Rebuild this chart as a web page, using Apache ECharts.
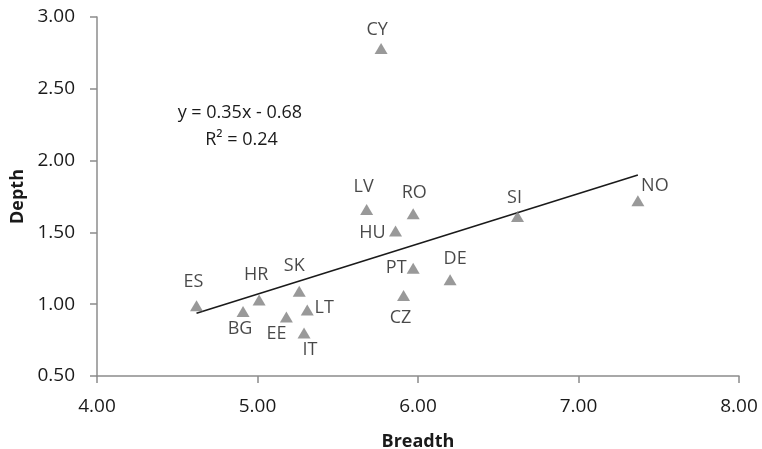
<!DOCTYPE html>
<html><head><meta charset="utf-8">
<script src="https://cdn.jsdelivr.net/npm/echarts@6/dist/echarts.min.js"></script>
<style>html,body{margin:0;padding:0;background:#fff}#c{width:762px;height:449px}</style>
</head><body><div id="c"></div>
<script>
// ---- data ----
const countries = ['ES','HR','BG','SK','EE','IT','LT','LV','RO','HU','PT','DE','CZ','SI','NO','CY'];
const breadth   = [4.62,5.01,4.91,5.26,5.18,5.29,5.31,5.68,5.97,5.86,5.97,6.20,5.91,6.62,7.37,5.77];
const depth     = [0.99,1.03,0.95,1.09,0.91,0.80,0.96,1.66,1.63,1.51,1.25,1.17,1.06,1.61,1.72,2.78];
const trendSlope = 0.35;
const trendIntercept = -0.68;
const equationText = ['y = 0.35x - 0.68', 'R² = 0.24'];
const xAxisTitle = 'Breadth';
const yAxisTitle = 'Depth';

// ---- label placement (style only) ----
const labelOffsets = {
  ES:[-3,-24], HR:[-3,-25], BG:[-3,17], SK:[-5,-25], EE:[-10,17], IT:[6,17],
  LT:[17,-2], LV:[-3,-23], RO:[1,-21], HU:[-23,2], PT:[-17,0], DE:[5,-21],
  CZ:[-3,22], SI:[-3,-19], NO:[17,-15], CY:[-4,-19]
};

const FONT = 'Open Sans';
const TXT = '#1a1a1a';
const pts = countries.map((c,i)=>({
  value:[breadth[i], depth[i]], name:c,
  label:{show:true, position:'inside', offset:labelOffsets[c], formatter:c,
         color:TXT, fontSize:18, fontFamily:FONT}
}));
const xMin = Math.min(...breadth), xMax = Math.max(...breadth);
const trend = [[xMin, trendSlope*xMin+trendIntercept],[xMax, trendSlope*xMax+trendIntercept]];

const chart = echarts.init(document.getElementById('c'), null, {renderer:'canvas'});
const axisLineStyle = {color:'#8c8c8c', width:1.5};
chart.setOption({
  animation:false,
  textStyle:{fontFamily:FONT},
  grid:{left:97, right:23, top:17, bottom:73, containLabel:false, outerBoundsMode:'none'},
  xAxis:{
    type:'value', min:4, max:8, interval:1,
    axisLine:{show:true, lineStyle:axisLineStyle},
    axisTick:{show:true, length:7, inside:false, lineStyle:axisLineStyle},
    splitLine:{show:false},
    axisLabel:{formatter:v=>v.toFixed(2), fontSize:19, color:TXT, margin:21, fontFamily:FONT},
    name:xAxisTitle, nameLocation:'middle', nameGap:57,
    nameTextStyle:{fontSize:18, fontWeight:'bold', color:TXT, fontFamily:FONT}
  },
  yAxis:{
    type:'value', min:0.5, max:3, interval:0.5,
    axisLine:{show:true, lineStyle:axisLineStyle},
    axisTick:{show:true, length:7, inside:false, lineStyle:axisLineStyle},
    splitLine:{show:false},
    axisLabel:{formatter:v=>v.toFixed(2), fontSize:19, color:TXT, margin:22, fontFamily:FONT},
    name:yAxisTitle, nameLocation:'middle', nameGap:70, nameRotate:90,
    nameTextStyle:{fontSize:18, fontWeight:'bold', color:TXT, fontFamily:FONT}
  },
  series:[
    {
      type:'line', data:trend, showSymbol:false, symbol:'none',
      lineStyle:{color:'#1a1a1a', width:1.6}, z:2, silent:true
    },
    {
      type:'scatter', data:pts, symbol:'triangle', symbolSize:[13,11],
      itemStyle:{color:'#7f7f7f'}, z:3
    }
  ]
});
// equation annotation placed in data coordinates
const eqPos1 = chart.convertToPixel({gridIndex:0}, [4.89, 2.33]);
const eqPos2 = chart.convertToPixel({gridIndex:0}, [4.90, 2.145]);
chart.setOption({graphic:[
  {type:'text', x:eqPos1[0], y:eqPos1[1], style:{text:equationText[0], fill:TXT, font:'18px "Open Sans"', textAlign:'center', textVerticalAlign:'middle'}},
  {type:'text', x:eqPos2[0], y:eqPos2[1], style:{text:equationText[1], fill:TXT, font:'18px "Open Sans"', textAlign:'center', textVerticalAlign:'middle'}}
]});
</script>
</body></html>
